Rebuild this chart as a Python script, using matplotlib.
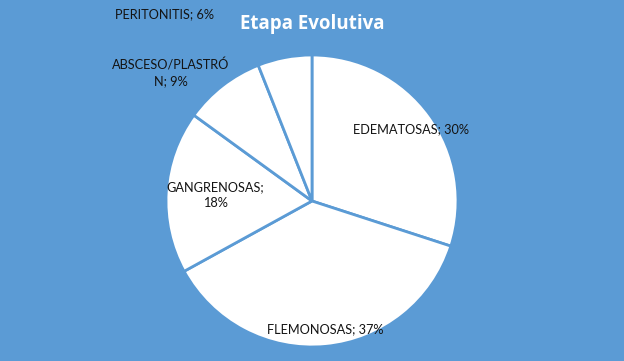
import matplotlib
matplotlib.use("Agg")
import matplotlib.pyplot as plt

# data
categories = ["EDEMATOSAS", "FLEMONOSAS", "GANGRENOSAS", "ABSCESO/PLASTRÓN", "PERITONITIS"]
values = [30, 37, 18, 9, 6]
label_texts = ["EDEMATOSAS; 30%", "FLEMONOSAS; 37%", "GANGRENOSAS;\n18%",
               "ABSCESO/PLASTRÓ\nN; 9%", "PERITONITIS; 6%"]
title = "Etapa Evolutiva"

# layout (units of pie radius, centre at 0,0)
label_pos = [(0.68, 0.49), (0.09, -0.88), (-0.66, 0.04), (-0.97, 0.88), (-1.01, 1.28)]

bg = "#5B9BD5"
plt.rcParams['font.family'] = ['Lato', 'DejaVu Sans']

W, H, dpi = 624, 361, 100
cx, cy, r = 312, 201, 146

fig = plt.figure(figsize=(W / dpi, H / dpi), dpi=dpi, facecolor=bg)
ax = fig.add_axes([0, 0, 1, 1])
ax.set_facecolor(bg)

wedges, _ = ax.pie(values, startangle=90, counterclock=False,
                   colors=["white"] * len(values),
                   wedgeprops=dict(edgecolor=bg, linewidth=2))

ax.set_xlim(-cx / r, (W - cx) / r)
ax.set_ylim(-(H - cy) / r, cy / r)
ax.set_aspect('equal')
ax.axis('off')

for txt, (x, y) in zip(label_texts, label_pos):
    ax.text(x, y, txt, ha='center', va='center', fontsize=9.2,
            color='#141414', linespacing=1.4)

ax.text(0.0, 1.21, title, ha='center', va='center', fontsize=13.5,
        fontweight='bold', color='white', family=['Open Sans', 'DejaVu Sans'])

fig.savefig("out.png", dpi=dpi, facecolor=bg)
